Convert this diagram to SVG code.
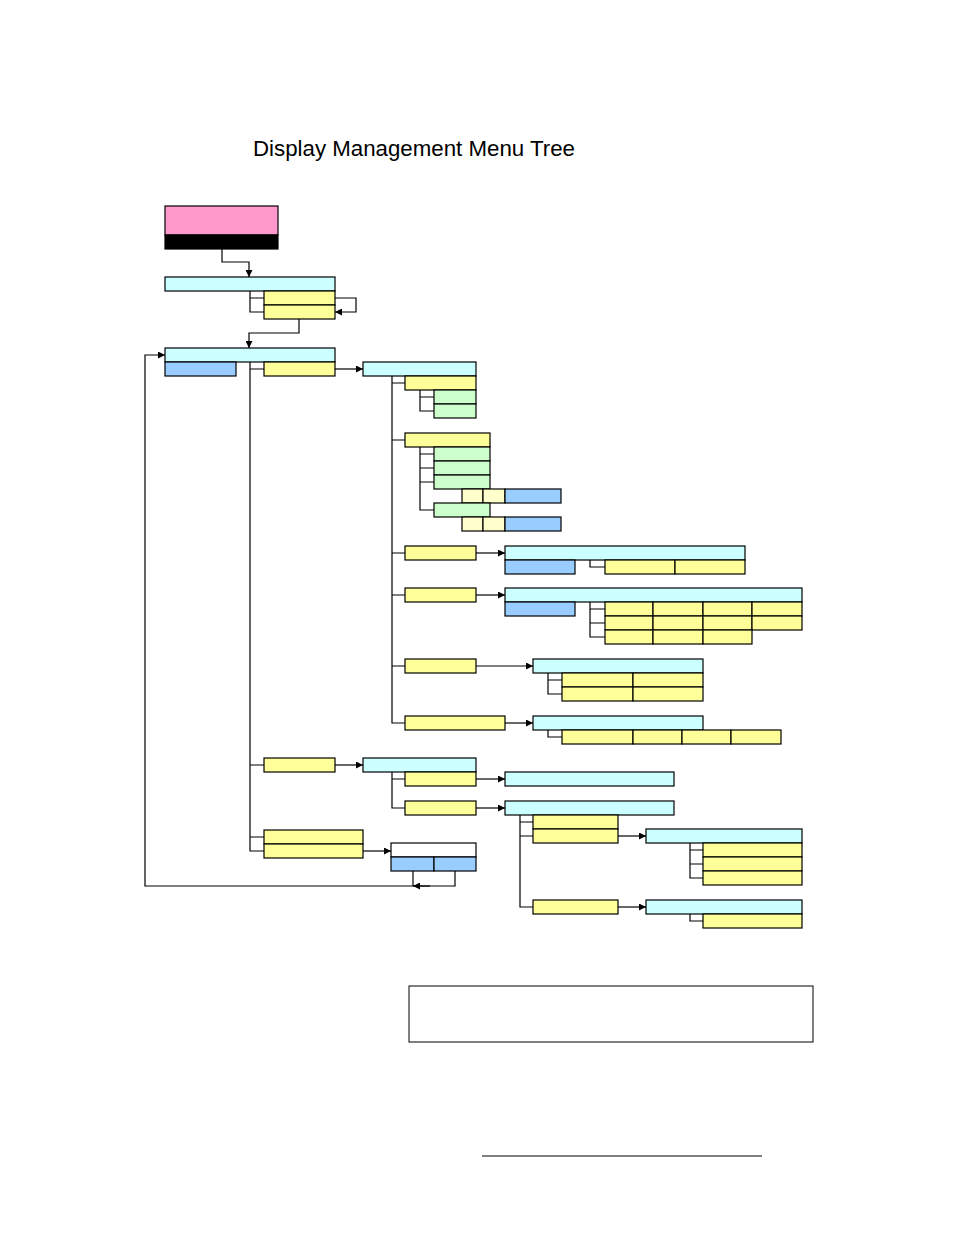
<svg xmlns="http://www.w3.org/2000/svg" width="954" height="1235" viewBox="0 0 954 1235">
<style>
g rect{stroke:#000;stroke-width:1.2}
.c{fill:#ccffff}.y{fill:#ffff99}.g{fill:#ccffcc}.b{fill:#99ccff}.l{fill:#ffffcc}.w{fill:#fff}
#connectors path{fill:none;stroke:#000;stroke-width:1.2}
</style>
<defs><marker id="a" viewBox="0 0 10 10" refX="10" refY="5" markerWidth="7" markerHeight="7" orient="auto" markerUnits="userSpaceOnUse"><path d="M0,0L10,5L0,10z" fill="#000"/></marker></defs>
<rect width="954" height="1235" fill="#fff"/>
<text x="253" y="156" font-family="Liberation Sans Narrow, Liberation Sans, sans-serif" font-size="22" textLength="322" lengthAdjust="spacingAndGlyphs">Display Management Menu Tree</text>
<g id="connectors">
<path d="M222,249V262H249V277" marker-end="url(#a)"/>
<path d="M250,291V312H264M250,298H264"/>
<path d="M335,298H356V312H335" marker-end="url(#a)"/>
<path d="M299,319V333H249V348" marker-end="url(#a)"/>
<path d="M335,369H363" marker-end="url(#a)"/>
<path d="M455,871V886H145V355H165" marker-end="url(#a)"/>
<path d="M413,871V886"/>
<path d="M250,362V851H264M250,369H264M250,765H264M250,837H264"/>
<path d="M392,376V723H405M392,383H405M392,440H405M392,553H405M392,595H405M392,666H405"/>
<path d="M420,390V411H434M420,397H434"/>
<path d="M420,447V510H434M420,454H434M420,468H434M420,482H434"/>
<path d="M476,553H505" marker-end="url(#a)"/>
<path d="M590,560V567H605"/>
<path d="M476,595H505" marker-end="url(#a)"/>
<path d="M590,602V637H605M590,609H605M590,623H605"/>
<path d="M476,666H533" marker-end="url(#a)"/>
<path d="M548,673V694H562M548,680H562"/>
<path d="M505,723H533" marker-end="url(#a)"/>
<path d="M548,730V737H562"/>
<path d="M335,765H363" marker-end="url(#a)"/>
<path d="M392,772V808H405M392,779H405"/>
<path d="M476,779H505" marker-end="url(#a)"/>
<path d="M476,808H505" marker-end="url(#a)"/>
<path d="M520,815V907H533M520,822H533M520,836H533"/>
<path d="M618,836H646" marker-end="url(#a)"/>
<path d="M690,843V878H703M690,850H703M690,864H703"/>
<path d="M618,907H646" marker-end="url(#a)"/>
<path d="M690,914V921H703"/>
<path d="M363,851H391" marker-end="url(#a)"/>
<path d="M430,886H413" marker-end="url(#a)"/>
</g>
<g id="start"><rect x="165" y="206" width="113" height="29" fill="#ff99cc"/><rect x="165" y="235" width="113" height="14" fill="#000"/></g>
<g id="n1"><rect class="c" x="165" y="277" width="170" height="14"/><rect class="y" x="264" y="291" width="71" height="14"/><rect class="y" x="264" y="305" width="71" height="14"/></g>
<g id="n2"><rect class="c" x="165" y="348" width="170" height="14"/><rect class="b" x="165" y="362" width="71" height="14"/><rect class="y" x="264" y="362" width="71" height="14"/></g>
<g id="n3"><rect class="c" x="363" y="362" width="113" height="14"/><rect class="y" x="405" y="376" width="71" height="14"/><rect class="g" x="434" y="390" width="42" height="14"/><rect class="g" x="434" y="404" width="42" height="14"/></g>
<g id="n4"><rect class="y" x="405" y="433" width="85" height="14"/><rect class="g" x="434" y="447" width="56" height="14"/><rect class="g" x="434" y="461" width="56" height="14"/><rect class="g" x="434" y="475" width="56" height="14"/><rect class="l" x="462" y="489" width="21" height="14"/><rect class="l" x="483" y="489" width="22" height="14"/><rect class="b" x="505" y="489" width="56" height="14"/><rect class="g" x="434" y="503" width="56" height="14"/><rect class="l" x="462" y="517" width="21" height="14"/><rect class="l" x="483" y="517" width="22" height="14"/><rect class="b" x="505" y="517" width="56" height="14"/></g>
<g id="n5"><rect class="y" x="405" y="546" width="71" height="14"/><rect class="c" x="505" y="546" width="240" height="14"/><rect class="b" x="505" y="560" width="70" height="14"/><rect class="y" x="605" y="560" width="70" height="14"/><rect class="y" x="675" y="560" width="70" height="14"/></g>
<g id="n6"><rect class="y" x="405" y="588" width="71" height="14"/><rect class="c" x="505" y="588" width="297" height="14"/><rect class="b" x="505" y="602" width="70" height="14"/>
<rect class="y" x="605" y="602" width="48" height="14"/><rect class="y" x="653" y="602" width="50" height="14"/><rect class="y" x="703" y="602" width="49" height="14"/><rect class="y" x="752" y="602" width="50" height="14"/>
<rect class="y" x="605" y="616" width="48" height="14"/><rect class="y" x="653" y="616" width="50" height="14"/><rect class="y" x="703" y="616" width="49" height="14"/><rect class="y" x="752" y="616" width="50" height="14"/>
<rect class="y" x="605" y="630" width="48" height="14"/><rect class="y" x="653" y="630" width="50" height="14"/><rect class="y" x="703" y="630" width="49" height="14"/></g>
<g id="n7"><rect class="y" x="405" y="659" width="71" height="14"/><rect class="c" x="533" y="659" width="170" height="14"/><rect class="y" x="562" y="673" width="71" height="14"/><rect class="y" x="633" y="673" width="70" height="14"/><rect class="y" x="562" y="687" width="71" height="14"/><rect class="y" x="633" y="687" width="70" height="14"/></g>
<g id="n8"><rect class="y" x="405" y="716" width="100" height="14"/><rect class="c" x="533" y="716" width="170" height="14"/><rect class="y" x="562" y="730" width="71" height="14"/><rect class="y" x="633" y="730" width="49" height="14"/><rect class="y" x="682" y="730" width="49" height="14"/><rect class="y" x="731" y="730" width="50" height="14"/></g>
<g id="n9"><rect class="y" x="264" y="758" width="71" height="14"/><rect class="c" x="363" y="758" width="113" height="14"/><rect class="y" x="405" y="772" width="71" height="14"/><rect class="c" x="505" y="772" width="169" height="14"/><rect class="y" x="405" y="801" width="71" height="14"/><rect class="c" x="505" y="801" width="169" height="14"/></g>
<g id="n10"><rect class="y" x="533" y="815" width="85" height="14"/><rect class="y" x="533" y="829" width="85" height="14"/><rect class="c" x="646" y="829" width="156" height="14"/><rect class="y" x="703" y="843" width="99" height="14"/><rect class="y" x="703" y="857" width="99" height="14"/><rect class="y" x="703" y="871" width="99" height="14"/><rect class="y" x="533" y="900" width="85" height="14"/><rect class="c" x="646" y="900" width="156" height="14"/><rect class="y" x="703" y="914" width="99" height="14"/></g>
<g id="n11"><rect class="y" x="264" y="830" width="99" height="14"/><rect class="y" x="264" y="844" width="99" height="14"/><rect class="w" x="391" y="843" width="85" height="14"/><rect class="b" x="391" y="857" width="43" height="14"/><rect class="b" x="434" y="857" width="42" height="14"/></g>
<g id="note"><rect class="w" x="409" y="986" width="404" height="56" style="stroke-width:1"/></g>
<path d="M482,1156H762" stroke="#000" stroke-width="1"/>
</svg>
